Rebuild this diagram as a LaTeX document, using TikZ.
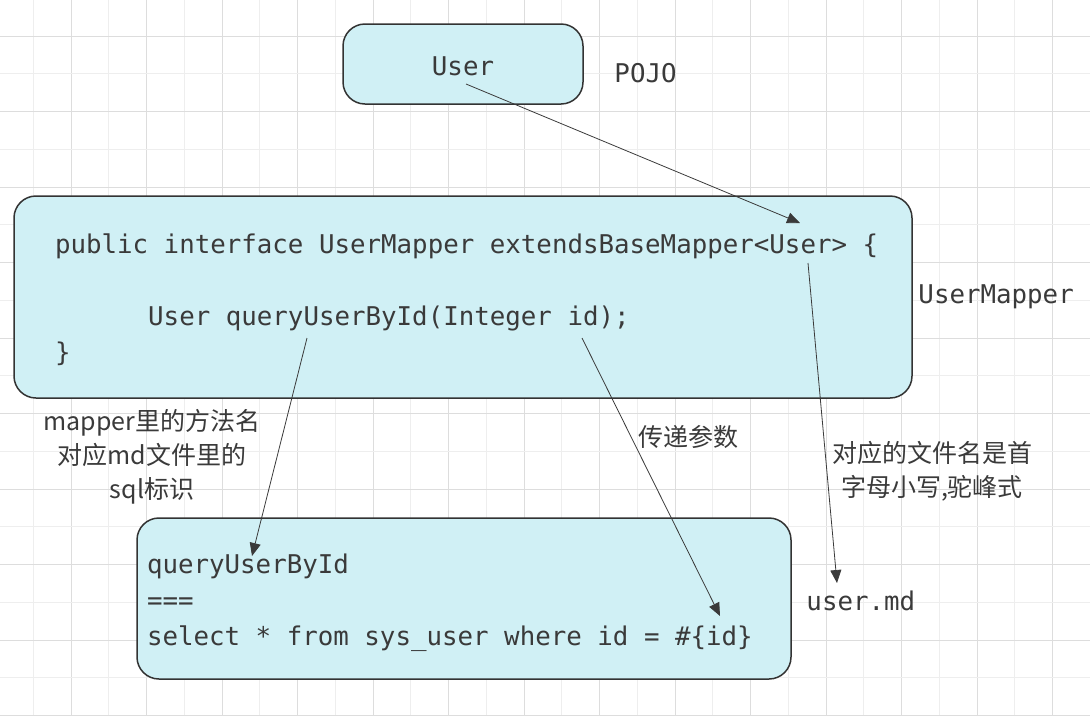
\documentclass[tikz,border=0pt]{standalone}
\usepackage{fontspec}
\setmonofont{DejaVu Sans Mono}
\newfontfamily\cjk{Noto Sans CJK SC}
\usepackage{tikz}
\usetikzlibrary{positioning,arrows.meta}
\definecolor{boxfill}{HTML}{D0F0F5}
\definecolor{boxedge}{HTML}{333333}
\definecolor{ink}{HTML}{3A3A3A}
\definecolor{gridlight}{HTML}{EEEEEE}
\definecolor{griddark}{HTML}{DDDDDD}
\newcommand\codefont{\ttfamily\fontsize{25.8}{36}\selectfont}
\newcommand\notefont{\cjk\fontsize{25}{34}\selectfont}
\newcommand\tsp{\hspace*{0.602em}}

\begin{document}
\begin{tikzpicture}[x=1pt, y=-1pt, ->, >={Triangle[length=13pt,width=11pt]}, line width=0.8pt, node distance=25pt,
	codebox/.style={draw=boxedge, fill=boxfill, line width=1.5pt, rounded corners=22pt, font=\codefont, text=ink},
	tag/.style={font=\codefont, text=ink},
	note/.style={font=\notefont, text=ink, align=center}]
	\useasboundingbox (0,0) rectangle (1090,716);
	% background grid
	\foreach \k in {0,...,14} \draw[-, gridlight, line width=1pt] ({33+75.5*\k},0) -- ++(0,716);
	\foreach \k in {0,...,13} \draw[-, griddark, line width=1pt] ({71+75.5*\k},0) -- ++(0,716);
	\foreach \k in {0,...,8} \draw[-, gridlight, line width=1pt] (0,{73.75+75.5*\k}) -- ++(1090,0);
	\foreach \k in {0,...,9} \draw[-, griddark, line width=1pt] (0,{36+75.5*\k}) -- ++(1090,0);
	% boxes
	\node [codebox, minimum width=240pt, minimum height=80pt] (user) at (463,64) {\rule{0pt}{23pt}User};
	\node [codebox, align=left, text width=840pt, inner xsep=29pt, minimum height=202pt] (mapper) at (463,297) {\hspace*{12pt}\rule{0pt}{26pt}public\tsp interface\tsp UserMapper\tsp extendsBaseMapper<User>\tsp\{\\ \mbox{}\\ \hspace*{12pt}\phantom{012345}User\tsp queryUserById(Integer\tsp id);\\ \hspace*{12pt}\}};
	\node [codebox, align=left, text width=634pt, inner xsep=10pt, minimum height=161pt] (sqlfile) at (464,598.5) {\rule{0pt}{28pt}queryUserById\\ ===\\ select\tsp*\tsp from\tsp sys\_user\tsp where\tsp id\tsp =\tsp\#\{id\}};
	% side labels
	\node [tag] (pojo) [right=27pt of user, yshift=-9pt] {POJO};
	\node [tag] (mappertag) [right=2pt of mapper] {UserMapper};
	\node [tag] (usermd) [right=11pt of sqlfile, yshift=-2pt] {user.md};
	% notes
	\node [note] (namenote) at (152,457) {mapper里的方法名\\对应md文件里的\\sql标识};
	\node [note] (paramnote) at (688,437) {传递参数};
	\node [note] (filenote) at (932,471) {对应的文件名是首\\字母小写,驼峰式};
	% arrow ends
	\coordinate (userTail) at (466,84);
	\coordinate (genericHead) at (800,223);
	\coordinate (genericTail) at (808,263);
	\coordinate (mdHead) at (837,583);
	\coordinate (methodTail) at (307,338);
	\coordinate (methodHead) at (252,556);
	\coordinate (idTail) at (582,338);
	\coordinate (idHead) at (720,616);
	\draw[->, ink] (userTail) -- (genericHead);
	\draw[->, ink] (genericTail) -- (mdHead);
	\draw[->, ink] (methodTail) -- (methodHead);
	\draw[->, ink] (idTail) -- (idHead);
\end{tikzpicture}
\end{document}
